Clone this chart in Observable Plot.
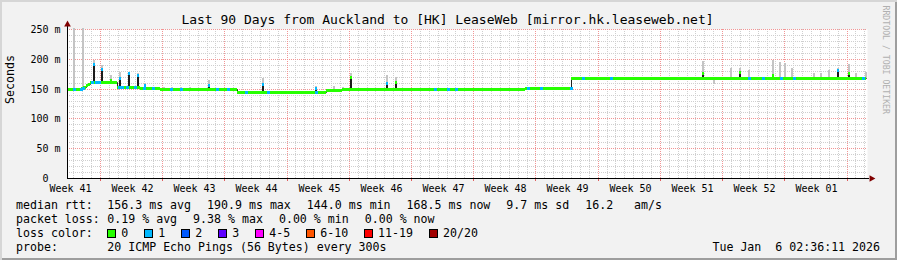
<!DOCTYPE html>
<html><head><meta charset="utf-8">
<script src="https://cdn.jsdelivr.net/npm/d3@7"></script>
<script src="https://cdn.jsdelivr.net/npm/@observablehq/plot@0.6"></script>
<style>
html,body{margin:0;padding:0;background:#f2f2f2;}
#chart{position:relative;width:897px;height:260px;background:#f2f2f2;box-shadow:inset 2px 2px 0 #d6d6d6, inset -2px -2px 0 #9e9e9e;font-family:"DejaVu Sans Mono",monospace;color:#000;overflow:hidden;}
#title{position:absolute;left:0;top:11.5px;width:895px;text-align:center;font-size:13px;line-height:16px;white-space:pre;}
#plot{position:absolute;left:0;top:0;}
.row{position:absolute;font-size:11.6px;line-height:14px;white-space:pre;}
.items{position:absolute;display:flex;gap:16px;font-size:11.6px;line-height:14px;white-space:pre;}
.sw{display:inline-block;width:9px;height:9px;box-sizing:border-box;border:1px solid #000;margin-right:5px;vertical-align:-1px;}
</style></head>
<body>
<div id="chart"><div id="title"></div><div id="plot"></div><div id="legend"></div></div>
<script>
// ---------- data ----------
const title = "Last 90 Days from Auckland to [HK] LeaseWeb [mirror.hk.leaseweb.net]";
const daysShown = 90;
const dataEnd = 89.9;
const yTicks = [0, 50, 100, 150, 200, 250];
const weekLabels = ["Week 41","Week 42","Week 43","Week 44","Week 45","Week 46","Week 47","Week 48","Week 49","Week 50","Week 51","Week 52","Week 01"];
const weekMidDays = [0.3, 7.3, 14.3, 21.3, 28.3, 35.3, 42.3, 49.3, 56.3, 63.3, 70.3, 77.3, 84.3];
const weekStartDays = [3.7, 10.7, 17.7, 24.7, 31.7, 38.7, 45.7, 52.7, 59.7, 66.7, 73.7, 80.7, 87.7];

// median rtt (ms), step changes
const stepDays = [0, 1.6, 1.85, 2.1, 2.35, 2.6, 5.6, 8.2, 10.5, 19.1, 29.1, 30.9, 51.5, 56.7];
const stepMs   = [149.7, 151, 153, 155.5, 158, 160.5, 152, 151, 150, 144.5, 148, 150, 151.5, 168.4];

// short median spikes
const spikeDays  = [2.89, 3.82, 4.84, 5.85, 6.83, 7.84, 8.70, 15.83, 21.90, 27.93, 31.80, 35.89, 36.90, 71.40, 75.60, 79.35, 86.59, 87.86];
const spikePeak  = [192, 183, 164, 167, 176, 173, 156, 156, 157, 150.5, 170, 159, 161.5, 176, 178, 172, 182, 176];
const spikeSmoke = [198, 190, 173, 178, 178, 176, 160, 164, 167, 155, 177, 173, 170, 196, 184, 198, 185, 192];
const spikeLoss  = [1, 1, 0, 1, 1, 1, 1, 1, 1, 1, 0, 1, 0, 0, 0, 0, 1, 0];

// smoke only (ping spread)
const smokeDays = [0.71, 1.72, 9.67, 10.8, 11.7, 12.7, 13.7, 29.9, 30.9, 72.7, 74.6, 76.6, 80.1, 80.7, 81.5, 83.9, 84.7, 85.6, 88.6, 89.8];
const smokeTop  = [252, 252, 153.5, 153, 153.5, 153, 152.5, 155, 153, 157, 184, 181, 195, 193, 184, 176, 176, 181, 176, 178];

// samples with packet loss
const lossDays  = [0.71, 1.46, 1.69, 2.7, 3.15, 3.3, 3.49, 5.74, 6.07, 6.64, 7.54, 8.55, 9.56, 11.59, 12.71, 16.76, 18.0, 20.02, 22.5, 27.9, 41.29, 42.75, 43.65, 51.75, 53.21, 56.59, 57.94, 61.09, 76.61, 78.19, 80.21, 81.67, 89.43];
const lossLevel = [1,1,1,1,1,1,1,1,1,1,1,1,1,1,1,1,1,1,1,1,1,1,1,1,1,1,1,1,1,1,1,1,1];

const lossLabels = ["0","1","2","3","4-5","6-10","11-19","20/20"];
const lossColors = ["#26ff00","#00b8ff","#0059ff","#5e00ff","#ff00ff","#ff5500","#ff0000","#a10000"];

const rttLegend  = ["156.3 ms avg","190.9 ms max","144.0 ms min","168.5 ms now","9.7 ms sd","16.2   am/s"];
const lossLegend = ["0.19 % avg","9.38 % max","0.00 % min","0.00 % now"];
const probeText = "20 ICMP Echo Pings (56 Bytes) every 300s";
const dateText = "Tue Jan  6 02:36:11 2026";
const watermark = "RRDTOOL / TOBI OETIKER";

// ---------- derived ----------
const SAMPLE = daysShown / 800;
const medianAt = day => { let v = stepMs[0]; stepDays.forEach((d, i) => { if (d <= day) v = stepMs[i]; }); return v; };
const steps = stepDays.map((d, i) => ({start: d, end: i + 1 < stepDays.length ? stepDays[i + 1] : dataEnd, ms: stepMs[i]}));
const lineData = steps.map(s => ({day: s.start, ms: s.ms})).concat([{day: dataEnd, ms: stepMs[stepMs.length - 1]}]);
const spikes = spikeDays.map((d, i) => ({day: d, peak: spikePeak[i], smoke: spikeSmoke[i], loss: spikeLoss[i], base: medianAt(d)}));
const smokes = smokeDays.map((d, i) => ({day: d, top: smokeTop[i], base: medianAt(d)}))
  .concat(spikes.map(s => ({day: s.day, top: s.smoke, base: s.base})));
const losses = lossDays.map((d, i) => ({day: d, loss: lossLevel[i], ms: medianAt(d)}));
const minorY = d3.range(10, 250, 10).filter(v => v % 50 !== 0);
const minorX = d3.range(0.7, daysShown, 1).filter(v => !weekStartDays.some(w => Math.abs(w - v) < 0.01));

const chart = Plot.plot({
  width: 897, height: 200,
  marginTop: 29, marginRight: 30, marginBottom: 22, marginLeft: 67,
  x: {domain: [0, daysShown], round: true},
  y: {domain: [0, 250], round: true},
  color: {type: "identity"},
  style: {fontFamily: "'DejaVu Sans Mono', monospace", fontSize: "10px", background: "transparent", color: "#000", overflow: "visible"},
  marks: [
    Plot.frame({fill: "#ffffff", stroke: "none"}),
    Plot.ruleY(minorY, {stroke: "#cfcfcf", strokeDasharray: "1,1"}),
    Plot.ruleX(minorX, {stroke: "#cfcfcf", strokeDasharray: "1,1"}),
    Plot.ruleY(yTicks.filter(v => v > 0), {stroke: "#f29595", strokeDasharray: "1,1"}),
    Plot.ruleX(weekStartDays, {stroke: "#f29595", strokeDasharray: "1,1"}),
    Plot.ruleX(weekStartDays, {y1: 0, y2: -5, stroke: "#e06060"}),
    Plot.rect(smokes, {x1: "day", x2: d => d.day + 2 * SAMPLE, y1: "base", y2: "top", fill: "#c4c4c4"}),
    Plot.line(lineData, {x: "day", y: "ms", curve: "step-after", stroke: "#202020", strokeWidth: 1}),
    Plot.rect(spikes, {x1: "day", x2: d => d.day + 2 * SAMPLE, y1: "base", y2: "peak", fill: "#1c1c1c"}),
    Plot.ruleY(steps, {x1: "start", x2: "end", y: "ms", stroke: lossColors[0], strokeWidth: 3}),
    Plot.ruleY(losses, {x1: "day", x2: d => d.day + 3 * SAMPLE, y: "ms", stroke: d => lossColors[d.loss], strokeWidth: 3}),
    Plot.ruleY(spikes, {x1: "day", x2: d => d.day + 2 * SAMPLE, y: "peak", stroke: d => lossColors[d.loss], strokeWidth: 3}),
    Plot.ruleY([0], {x1: 0, x2: 90.2, stroke: "#000"}),
    Plot.ruleX([0], {y1: 0, y2: 255.5, stroke: "#000"}),
    Plot.dot([0], {frameAnchor: "bottom-right", dx: 4, symbol: "triangle", rotate: 90, r: 2.5, fill: "#800000", stroke: "none"}),
    Plot.dot([0], {frameAnchor: "top-left", dy: -5, symbol: "triangle", r: 2.5, fill: "#800000", stroke: "none"}),
    Plot.axisY(yTicks, {tickSize: 0, tickPadding: 7, tickFormat: d => d === 0 ? "0\u00a0\u00a0" : d + " m", label: null}),
    Plot.axisX(weekMidDays, {tickSize: 0, tickPadding: 6, tickFormat: d => weekLabels[weekMidDays.indexOf(d)], label: null}),
    Plot.text(["Seconds"], {frameAnchor: "left", rotate: -90, dx: -57, fontSize: 11.6}),
    Plot.text([watermark], {frameAnchor: "top-right", rotate: 90, textAnchor: "start", dx: 21, dy: -24, fill: "#b0b0b0", fontSize: 8.2})
  ]
});
document.getElementById("plot").appendChild(chart);
document.getElementById("title").textContent = title;

// ---------- legend ----------
const legend = document.getElementById("legend");
function addText(cls, left, top, text, right) {
  const el = document.createElement("div");
  el.className = cls;
  if (right != null) el.style.right = right + "px"; else el.style.left = left + "px";
  el.style.top = top + "px";
  if (text != null) el.textContent = text;
  legend.appendChild(el);
  return el;
}
const rowTops = [197.5, 211.5, 225.5, 239.5];
addText("row", 16, rowTops[0], "median rtt:");
addText("row", 16, rowTops[1], "packet loss:");
addText("row", 16, rowTops[2], "loss color:");
addText("row", 16, rowTops[3], "probe:");
const r1 = addText("items", 107.3, rowTops[0]);
rttLegend.forEach(t => { const s = document.createElement("span"); s.textContent = t; r1.appendChild(s); });
const r2 = addText("items", 107.3, rowTops[1]);
lossLegend.forEach(t => { const s = document.createElement("span"); s.textContent = t; r2.appendChild(s); });
const r3 = addText("items", 107.3, rowTops[2]);
lossLabels.forEach((t, i) => {
  const s = document.createElement("span");
  const b = document.createElement("span"); b.className = "sw"; b.style.background = lossColors[i];
  s.appendChild(b); s.appendChild(document.createTextNode(t));
  r3.appendChild(s);
});
addText("row", 107.3, rowTops[3], probeText);
addText("row", null, rowTops[3], dateText, 17);
</script>
</body></html>
